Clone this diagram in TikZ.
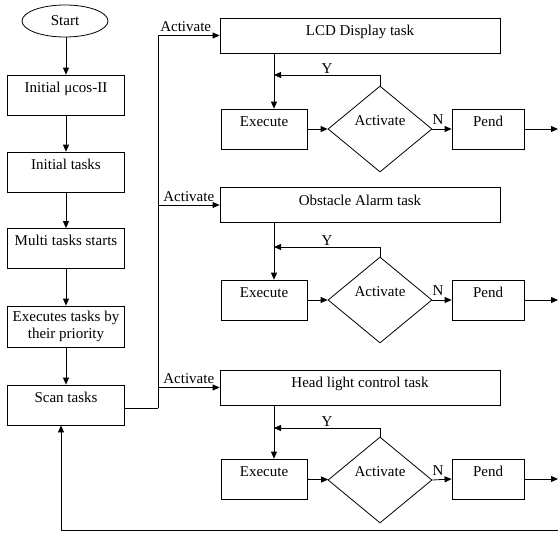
\documentclass[tikz,border=0pt]{standalone}
\usepackage{fontspec}
\setmainfont{Liberation Serif}
\usetikzlibrary{arrows.meta, shapes.geometric}

\tikzset{
    box/.style={draw, rectangle, minimum width=117pt, minimum height=40pt, inner sep=0pt, text height=11pt, text depth=17pt},
    taskbox/.style={draw, rectangle, minimum width=280pt, minimum height=35pt, inner sep=0pt, text height=12pt, text depth=12pt},
    decision/.style={draw, diamond, minimum width=104pt, minimum height=86pt, inner sep=0pt, text height=10pt, text depth=18pt},
    arr/.style={-{Triangle[length=7pt, width=6pt]}}
}

\begin{document}
\begin{tikzpicture}[x=1pt, y=-1pt, line width=0.8pt, font=\fontsize{15}{17}\selectfont]
        \useasboundingbox (0,0) rectangle (558,533);

        % Main column
        \node[draw, ellipse, minimum width=86pt, minimum height=32pt, inner sep=0pt] (start) at (65,21) {Start};
        \node[box] (init) at (66,95) {Initial μcos-II};
        \node[box] (tasks) at (66,172) {Initial tasks};
        \node[box] (multi) at (66,248.5) {Multi tasks starts};
        \node[draw, rectangle, minimum width=117pt, minimum height=41pt, inner sep=1pt, align=center] (prio) at (66,326.5) {Executes tasks by\\their priority};
        \node[box] (scan) at (66,405) {Scan tasks};

        \draw[arr] (start.south -| init.north) -- (init.north);
        \draw[arr] (init) -- (tasks);
        \draw[arr] (tasks) -- (multi);
        \draw[arr] (multi) -- (prio);
        \draw[arr] (prio) -- (scan);

        % Task boxes
        \node[taskbox] (lcd) at (360,35.5) {LCD Display task};
        \node[taskbox] (alarm) at (360,205) {Obstacle Alarm task};
        \node[taskbox] (light) at (360,387.5) {Head light control task};

        % Activation lines
        \coordinate (split) at (158,408);
        \draw (scan.east |- split) -- (split);
        \draw[arr] (split) |- (lcd.west) node[pos=0.725, above] {Activate};
        \draw[arr] (split |- alarm.west) -- (alarm.west) node[midway, above] {Activate};
        \draw[arr] (split |- light.west) -- (light.west) node[midway, above] {Activate};

        % LCD display loop
        \node[box, minimum width=86pt] (exec1) at (264,129) {Execute};
        \node[decision] (dec1) at (380,129) {Activate};
        \node[box, minimum width=72pt] (pend1) at (488,129) {Pend};
        \coordinate (join1) at (274,75);
        \draw[arr] (lcd.south -| join1) -- (exec1.north -| join1);
        \draw[arr] (dec1.north) |- (join1) node[pos=0.75, above, inner sep=1pt] {Y};
        \draw[arr] (exec1) -- (dec1);
        \draw[arr] (dec1.east) -- (pend1.west) node[pos=0.3, above, inner sep=4pt] {N};
        \draw[arr] (pend1.east) -- (558,129);

        % Obstacle alarm loop
        \node[box, minimum width=86pt] (exec2) at (264,300) {Execute};
        \node[decision] (dec2) at (380,300) {Activate};
        \node[box, minimum width=72pt] (pend2) at (488,300) {Pend};
        \coordinate (join2) at (274,247);
        \draw[arr] (alarm.south -| join2) -- (exec2.north -| join2);
        \draw[arr] (dec2.north) |- (join2) node[pos=0.75, above, inner sep=1pt] {Y};
        \draw[arr] (exec2) -- (dec2);
        \draw[arr] (dec2.east) -- (pend2.west) node[pos=0.3, above, inner sep=4pt] {N};
        \draw[arr] (pend2.east) -- (558,300);

        % Head light loop
        \node[box, minimum width=86pt] (exec3) at (264,479) {Execute};
        \node[decision] (dec3) at (380,480) {Activate};
        \node[box, minimum width=72pt] (pend3) at (488,479) {Pend};
        \coordinate (join3) at (274,428);
        \draw[arr] (light.south -| join3) -- (exec3.north -| join3);
        \draw[arr] (dec3.north) |- (join3) node[pos=0.75, above, inner sep=1pt] {Y};
        \draw[arr] (exec3) -- (dec3);
        \draw[arr] (dec3.east) -- (pend3.west) node[pos=0.3, above, inner sep=4pt] {N};
        \draw[arr] (pend3.east) -- (558,479);

        % Return to scan
        \coordinate (back) at (558,530);
        \coordinate (ret) at (61,530);
        \draw[arr] (back) -- (ret) -- (ret |- scan.south);
    \end{tikzpicture}
\end{document}
